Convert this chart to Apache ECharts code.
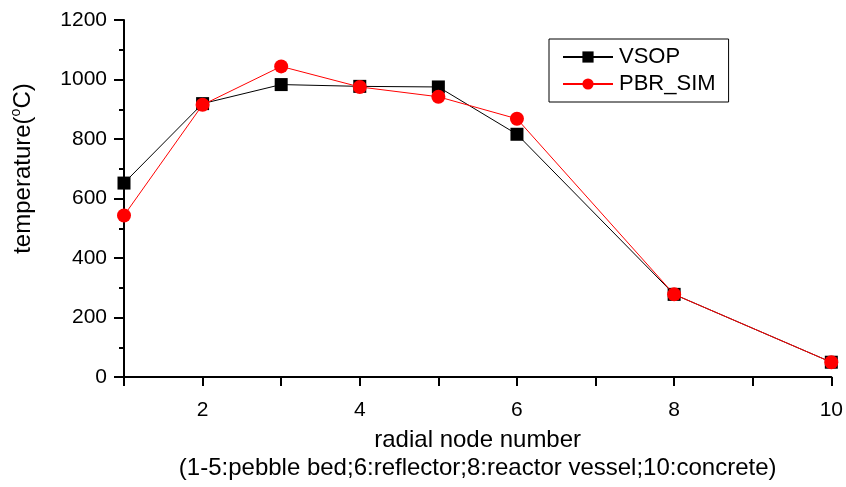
<!DOCTYPE html>
<html>
<head>
    <meta charset="utf-8">
    <title>radial temperature</title>
    <style type="text/css">
        html, body { margin: 0; padding: 0; background: #fff; }
        #main { width: 846px; height: 487px; }
    </style>
</head>
<body>
<div id="main"></div>
<script src="https://cdn.jsdelivr.net/npm/echarts@6/dist/echarts.min.js"></script>
<script>
    // radial node positions
    var nodes = [1, 2, 3, 4, 5, 6, 8, 10];
    // temperatures
    var vsop = [652, 919, 983, 977, 975, 816, 278, 50];
    var pbrSim = [543, 915, 1044, 975, 942, 868, 278, 50];
    var xLabels = [2, 4, 6, 8, 10];

    var font = 'Liberation Sans, Arial, sans-serif';

    function pairs(xs, ys) {
        return xs.map(function (x, i) { return [x, ys[i]]; });
    }

    var myChart = echarts.init(document.getElementById('main'));
    var option = {
        animation: false,
        textStyle: { fontFamily: font },
        grid: { left: 124, right: 14, top: 20, bottom: 106 },
        legend: {
            orient: 'vertical',
            left: 549,
            top: 39,
            borderColor: '#000',
            borderWidth: 1,
            borderRadius: 0,
            padding: [7, 13, 7, 13],
            itemGap: 5,
            itemWidth: 50,
            itemHeight: 14,
            textStyle: { fontSize: 22, color: '#000', fontFamily: font, padding: [0, 0, 0, 1] },
            data: ['VSOP', 'PBR_SIM']
        },
        xAxis: {
            type: 'value',
            min: 1,
            max: 10,
            interval: 1,
            name: 'radial node number\n(1-5:pebble bed;6:reflector;8:reactor vessel;10:concrete)',
            nameLocation: 'middle',
            nameGap: 44,
            nameTextStyle: { fontSize: 24, color: '#000', lineHeight: 28, fontFamily: font },
            axisLine: { lineStyle: { color: '#000', width: 2 } },
            axisTick: { length: 9, lineStyle: { color: '#000', width: 2 } },
            axisLabel: {
                color: '#000', fontSize: 21, margin: 23, fontFamily: font,
                formatter: function (v) { return xLabels.indexOf(v) >= 0 ? String(v) : ''; }
            },
            splitLine: { show: false }
        },
        yAxis: {
            type: 'value',
            min: 0,
            max: 1200,
            interval: 200,
            name: '{t|temperature(}{s|o}{t|C)}',
            nameLocation: 'middle',
            nameGap: 87,
            nameTextStyle: {
                padding: [0, 0, 0, 60],
                rich: {
                    t: { fontSize: 24, lineHeight: 28, color: '#000', fontFamily: font },
                    s: { fontSize: 14, lineHeight: 14, color: '#000', fontFamily: font, verticalAlign: 'top' }
                }
            },
            axisLine: { show: true, lineStyle: { color: '#000', width: 2 } },
            axisTick: { length: 10, lineStyle: { color: '#000', width: 2 } },
            minorTick: { show: true, splitNumber: 2, length: 5, lineStyle: { color: '#000', width: 2 } },
            axisLabel: {
                color: '#000', fontSize: 21, margin: 17, fontFamily: font,
                formatter: function (v) { return String(v); }
            },
            splitLine: { show: false }
        },
        series: [
            {
                name: 'VSOP',
                type: 'line',
                data: pairs(nodes, vsop),
                symbol: 'rect',
                symbolSize: 13,
                itemStyle: { color: '#000' },
                lineStyle: { color: '#000', width: 1 },
                z: 2
            },
            {
                name: 'PBR_SIM',
                type: 'line',
                data: pairs(nodes, pbrSim),
                symbol: 'circle',
                symbolSize: 14,
                itemStyle: { color: '#ff0000' },
                lineStyle: { color: '#ff0000', width: 1 },
                z: 3
            }
        ]
    };
    myChart.setOption(option);
</script>
</body>
</html>
